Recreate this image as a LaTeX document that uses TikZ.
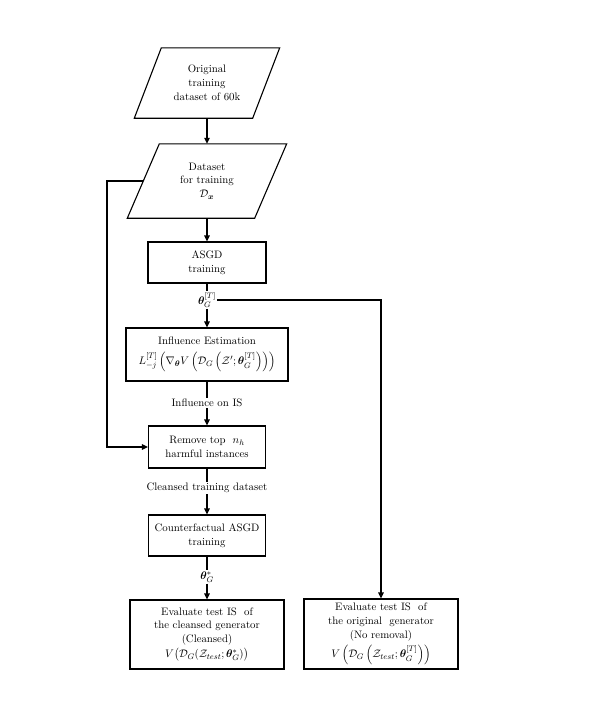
\documentclass[tikz,border=0pt]{standalone}
\usepackage{amsmath,bm}
\usetikzlibrary{arrows.meta}
\begin{document}
\begin{tikzpicture}[x=1pt,y=-1pt,
  txt/.style={font=\fontsize{10.8}{13.8}\selectfont, align=center, inner sep=1pt},
  box/.style={txt, draw, line width=1.1pt},
  para/.style={txt, draw=none},
  arr/.style={line width=1.1pt, -{Triangle[length=6pt,width=5.5pt]}},
  ln/.style={line width=1.1pt}]
\useasboundingbox (0,0) rectangle (592,713);
% parallelograms
\node[para, minimum width=118pt, minimum height=70pt] (p1) at (207,83) {Original\\training\\dataset of 60k};
\draw[ln] ([xshift=13.5pt]p1.north west) -- ([xshift=13.5pt]p1.north east) -- ([xshift=-13.5pt]p1.south east) -- ([xshift=-13.5pt]p1.south west) -- cycle;
\node[para, minimum width=127pt, minimum height=74pt] (p2) at (207,181) {Dataset\\for training\\$\mathcal{D}_{\bm{x}}$};
\draw[ln] ([xshift=16pt]p2.north west) -- ([xshift=16pt]p2.north east) -- ([xshift=-16pt]p2.south east) -- ([xshift=-16pt]p2.south west) -- cycle;
% boxes
\node[box, minimum width=118pt, minimum height=41pt] (asgd) at (207,262.5) {ASGD\\training};
\node[txt] (th) at (207,300) {$\bm{\theta}_G^{[T]}$};
\node[box, minimum width=162pt, minimum height=53pt] (infl) at (207,354.5) {Influence Estimation\\[6pt]$L_{-j}^{[T]}\left(\nabla_{\bm{\theta}}V\left(\mathcal{D}_G\left(\mathcal{Z}';\bm{\theta}_G^{[T]}\right)\right)\right)$};
\node[txt] (ion) at (207,403) {Influence on IS};
\node[box, minimum width=117pt, minimum height=42pt] (rem) at (207,447) {Remove top ~$n_h$\\harmful instances};
\node[txt] (cl) at (207,488) {Cleansed training dataset};
\node[box, minimum width=117pt, minimum height=41pt] (cf) at (207,535.5) {Counterfactual ASGD\\training};
\node[txt] (ths) at (207,577) {$\bm{\theta}_G^{*}$};
\node[box, minimum width=154pt, minimum height=69pt] (evl) at (207,634.5) {Evaluate test IS ~of\\the cleansed generator\\(Cleansed)\\[1pt]$V\big(\mathcal{D}_G(\mathcal{Z}_{test};\bm{\theta}_G^{*})\big)$};
\node[box, minimum width=154pt, minimum height=70pt] (evr) at (381,634) {Evaluate test IS ~of\\the original ~generator\\(No removal)\\[3pt]$V\left(\mathcal{D}_G\left(\mathcal{Z}_{test};\bm{\theta}_G^{[T]}\right)\right)$};
\coordinate (lc) at (107,181);
% connectors
\draw[arr] (p1.south) -- (p2.north);
\draw[arr] (p2.south) -- (asgd.north);
\draw[ln] (asgd.south) -- (th.north);
\draw[arr] (th.south) -- (infl.north);
\draw[arr] (th.east) -| (evr.north);
\draw[ln] (infl.south) -- (ion.north);
\draw[arr] (ion.south) -- (rem.north);
\draw[arr] (p2.west) -- (lc) |- (rem.west);
\draw[ln] (rem.south) -- (cl.north);
\draw[arr] (cl.south) -- (cf.north);
\draw[ln] (cf.south) -- (ths.north);
\draw[arr] (ths.south) -- (evl.north);
\end{tikzpicture}
\end{document}
